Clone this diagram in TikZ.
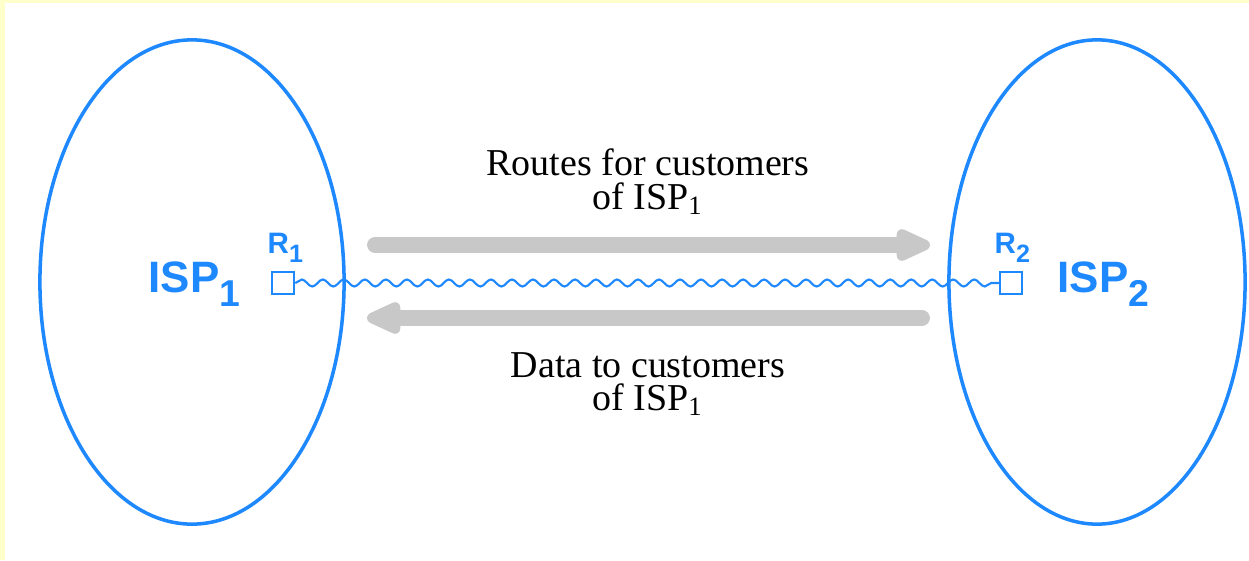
\documentclass[tikz,border=0pt]{standalone}
\usepackage{fontspec}
\setmainfont{Liberation Serif}
\newfontfamily\ispfont{Liberation Sans}
\usetikzlibrary{arrows.meta,positioning,shapes.geometric,decorations.pathmorphing}

\definecolor{ispblue}{RGB}{30,136,255}
\definecolor{flowgray}{RGB}{200,200,200}
\definecolor{pageyellow}{RGB}{255,255,204}
\newcommand{\dropsub}[1]{\raisebox{-0.32em}{\scalebox{0.85}{#1}}}

\begin{document}
\begin{tikzpicture}[x=0.01cm,y=0.01cm,
    isp/.style={ellipse,draw=ispblue,line width=1pt,minimum width=3.04cm,minimum height=4.84cm,inner sep=0pt},
    router/.style={draw=ispblue,fill=white,line width=0.7pt,minimum size=0.22cm,inner sep=0pt},
    isplabel/.style={text=ispblue,font=\ispfont\bfseries\fontsize{12.5}{12.5}\selectfont,inner sep=0pt},
    rlabel/.style={text=ispblue,font=\ispfont\bfseries\fontsize{8.4}{8.4}\selectfont,inner sep=0pt},
    link/.style={draw=ispblue,line width=0.6pt,decorate,decoration={snake,amplitude=0.035cm,segment length=0.21cm}},
    flow/.style={draw=flowgray,line width=4.5pt,line cap=round,-{Triangle[round,length=0.42cm,width=0.34cm]}},
    caption/.style={align=center,font=\fontsize{10.8}{9.4}\selectfont,inner sep=0pt}]
          % page
          \fill[pageyellow] (0,0) rectangle (1249,560);
          \fill[white] (5,0) rectangle (1249,557);
          \useasboundingbox (0,0) rectangle (1249,560);
          % networks
          \node[isp] (isp1) at (192,278) {};
          \node[isp,minimum width=2.96cm] (isp2) at (1097,278) {};
          \node[isplabel,anchor=base west] (isp1name) at (148,268) {ISP\dropsub{1}};
          \node[isplabel,anchor=base west] (isp2name) at (1057,268) {ISP\dropsub{2}};
          % routers
          \node[router] (r1) at (283,277) {};
          \node[router] (r2) at (1011,277) {};
          \node[rlabel,anchor=base west] (r1name) at (267,307) {R\dropsub{1}};
          \node[rlabel,anchor=base west] (r2name) at (994,307) {R\dropsub{2}};
          % link
          \draw[link] (r1) -- (r2);
          % flows
          \coordinate (routesfrom) at (375,315);
          \coordinate (routesto) at (930,315);
          \coordinate (datafrom) at (922,242);
          \coordinate (datato) at (367,242);
          \draw[flow] (routesfrom) -- (routesto);
          \draw[flow] (datafrom) -- (datato);
          % captions
          \node[caption] (routes) at (648,378) {Routes for customers\\of ISP\textsubscript{1}};
          \node[caption] (data) at (648,176) {Data to customers\\of ISP\textsubscript{1}};
        \end{tikzpicture}
\end{document}
